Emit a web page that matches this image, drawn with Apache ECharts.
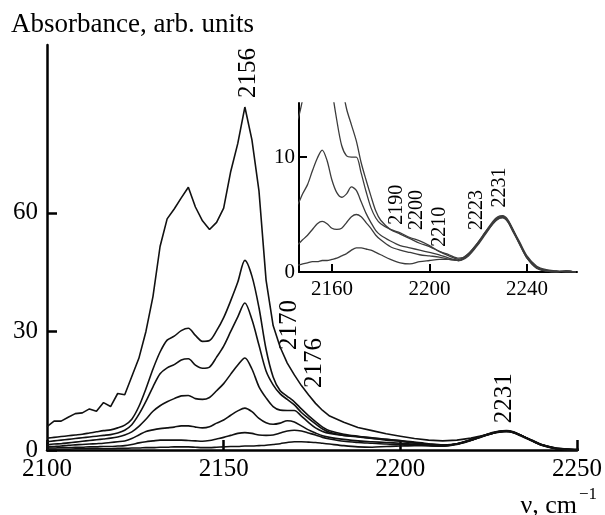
<!DOCTYPE html>
<html>
<head>
<meta charset="utf-8">
<script src="https://cdn.jsdelivr.net/npm/echarts@6/dist/echarts.min.js"></script>
<style>
  html, body { margin: 0; padding: 0; background: #fff; }
  #chart { width: 605px; height: 515px; }
</style>
</head>
<body>
<div id="chart"></div>
<script>
// wavenumber grid, cm-1
const wavenumbers = [
  2100, 2102, 2104, 2106, 2108, 2110, 2112, 2114, 2116, 2118,
  2120, 2122, 2124, 2126, 2128, 2130, 2132, 2134, 2136, 2138,
  2140, 2142, 2144, 2146, 2148, 2150, 2152, 2154, 2156, 2158,
  2160, 2162, 2164, 2166, 2168, 2170, 2172, 2174, 2176, 2178,
  2180, 2184, 2188, 2192, 2196, 2200, 2204, 2208, 2212,
  2216, 2220, 2223, 2226, 2228, 2230, 2232, 2234, 2237, 2240,
  2244, 2248, 2252, 2256, 2260
]

// absorbance spectra, top to bottom
const spectrum1 = [
  5.9, 7.3, 7.3, 8.3, 9.2, 9.4, 10.4, 9.8, 12.0, 11.0,
  14.3, 14.0, 18.6, 23.2, 30.0, 38.9, 51.5, 58.5, 61.0, 63.8,
  66.5, 61.5, 58.0, 55.8, 57.6, 61.2, 70.5, 77.6, 86.8, 78.5,
  65.5, 43.0, 31.5, 26.0, 22.0, 19.0, 16.3, 14.0, 11.8, 10.0,
  8.6, 7.0, 5.7, 4.9, 4.1, 3.5, 2.9, 2.5, 2.3,
  2.5, 3.0, 3.6, 4.2, 4.5, 4.7, 4.5, 3.8, 2.5, 1.3,
  0.5, 0.1, 0.0, 0.0, 0.0
]
const spectrum2 = [
  3.0, 3.2, 3.4, 3.6, 3.8, 4.0, 4.3, 4.6, 4.9, 5.1,
  5.6, 6.3, 7.8, 11.0, 15.5, 20.5, 24.8, 27.8, 28.8, 30.2,
  30.8, 29.0, 27.5, 27.7, 30.2, 33.5, 37.8, 42.5, 48.0, 44.0,
  36.0, 25.5, 18.5, 15.0, 13.6, 12.2, 10.4, 8.7, 7.2, 5.8,
  4.9, 4.0, 3.5, 3.1, 2.7, 2.4, 2.0, 1.6, 1.3,
  1.5, 2.5, 3.4, 4.2, 4.6, 4.8, 4.5, 3.8, 2.5, 1.3,
  0.4, 0.1, 0.1, 0.0, 0.0
]
const spectrum3 = [
  2.1, 2.3, 2.5, 2.7, 2.9, 3.1, 3.3, 3.5, 3.7, 3.9,
  4.3, 5.0, 6.4, 9.0, 12.3, 16.0, 19.3, 20.8, 21.6, 22.8,
  23.1, 21.5, 20.7, 21.0, 23.5, 26.3, 30.0, 33.7, 37.2, 33.0,
  26.5, 20.0, 16.5, 14.2, 12.8, 11.4, 9.5, 8.0, 6.6, 5.3,
  4.5, 3.7, 3.3, 2.9, 2.5, 2.2, 1.8, 1.5, 1.2,
  1.5, 2.5, 3.4, 4.3, 4.7, 4.85, 4.5, 3.8, 2.4, 1.2,
  0.4, 0.1, 0.0, 0.1, 0.0
]
const spectrum4 = [
  1.3, 1.5, 1.6, 1.8, 2.0, 2.2, 2.4, 2.6, 2.8, 3.0,
  3.3, 3.8, 4.6, 6.0, 7.8, 9.8, 11.2, 12.2, 13.0, 13.7,
  13.8, 13.0, 12.8, 13.3, 15.0, 16.8, 19.2, 21.5, 23.3, 20.5,
  16.0, 13.2, 11.0, 10.1, 10.0, 10.0, 8.6, 7.0, 5.6, 4.7,
  4.2, 3.7, 3.4, 3.0, 2.7, 2.3, 1.8, 1.4, 1.1,
  1.6, 2.6, 3.5, 4.3, 4.7, 4.8, 4.5, 3.7, 2.5, 1.3,
  0.4, 0.1, 0.1, 0.0, 0.0
]
const spectrum5 = [
  0.8, 0.9, 1.0, 1.2, 1.3, 1.4, 1.5, 1.6, 1.7, 1.9,
  2.1, 2.3, 2.9, 3.8, 4.7, 5.1, 5.4, 5.6, 5.8, 6.1,
  6.1, 5.8, 5.6, 5.9, 6.8, 7.6, 8.8, 9.9, 10.6, 9.7,
  8.0, 6.9, 6.5, 6.8, 7.4, 7.1, 6.1, 5.1, 4.3, 3.6,
  3.2, 2.7, 2.3, 2.1, 1.9, 1.7, 1.5, 1.2, 1.0,
  1.5, 2.5, 3.4, 4.2, 4.6, 4.75, 4.4, 3.6, 2.4, 1.2,
  0.3, 0.1, 0.0, 0.1, 0.0
]
const spectrum6 = [
  0.5, 0.5, 0.6, 0.6, 0.7, 0.7, 0.8, 0.8, 0.9, 0.9,
  1.0, 1.1, 1.4, 1.8, 2.1, 2.3, 2.5, 2.5, 2.5, 2.5,
  2.4, 2.3, 2.2, 2.4, 2.8, 3.2, 3.7, 4.2, 4.4, 4.2,
  3.8, 3.7, 3.8, 4.3, 4.8, 5.0, 4.8, 4.3, 3.8, 3.2,
  2.8, 2.2, 1.9, 1.7, 1.5, 1.4, 1.3, 1.1, 1.0,
  1.6, 2.6, 3.5, 4.4, 4.8, 4.9, 4.6, 3.8, 2.6, 1.4,
  0.5, 0.2, 0.1, 0.0, 0.0
]
const spectrum7 = [
  0.2, 0.2, 0.2, 0.2, 0.3, 0.3, 0.3, 0.3, 0.3, 0.3,
  0.4, 0.4, 0.5, 0.5, 0.6, 0.6, 0.7, 0.7, 0.8, 0.8,
  0.8, 0.7, 0.6, 0.6, 0.7, 0.8, 0.9, 0.9, 1.0, 1.0,
  1.1, 1.2, 1.4, 1.6, 1.9, 2.1, 2.1, 2.0, 1.9, 1.7,
  1.5, 1.1, 0.8, 0.7, 0.9, 1.0, 1.1, 1.1, 1.0,
  1.4, 2.4, 3.3, 4.2, 4.6, 4.7, 4.4, 3.7, 2.5, 1.3,
  0.4, 0.1, 0.0, 0.1, 0.0
]

const mainSpectra = [spectrum1, spectrum2, spectrum3, spectrum4, spectrum5, spectrum6, spectrum7]
// the inset only shows the lower five spectra
const insetSpectra = [spectrum3, spectrum4, spectrum5, spectrum6, spectrum7]

const mainYTicks = [0, 30, 60]
const mainXTicks = [2100, 2150, 2200, 2250]
const insetYTicks = [0, 10]
const insetXTicks = [2160, 2200, 2240]

// band labels: text, wavenumber, absorbance at the bottom of the text
const mainBandLabels = [
  ['2156', 2157.1, 89.1],
  ['2170', 2168.6, 25.3],
  ['2176', 2175.7, 15.7],
  ['2231', 2229.4, 6.8]
]
const insetBandLabels = [
  ['2190', 2186.7, 4.1],
  ['2200', 2194.9, 3.65],
  ['2210', 2204.3, 2.2],
  ['2223', 2219.5, 3.65],
  ['2231', 2229.0, 5.6]
]

const FONT = '"Liberation Serif", "DejaVu Serif", serif'

const chart = echarts.init(document.getElementById('chart'), null, { renderer: 'canvas' })

function toPairs(values) {
  return wavenumbers.map((w, i) => [w, values[i]])
}

function axisX(gridIndex, min, max, ticks, fontSize, lineWidth, tickLen) {
  return {
    type: 'value', gridIndex, min, max,
    axisLine: { onZero: false, lineStyle: { color: '#000', width: lineWidth } },
    axisTick: { inside: true, length: tickLen, customValues: ticks, lineStyle: { color: '#000', width: lineWidth } },
    axisLabel: { customValues: ticks, formatter: v => String(v), color: '#000', fontFamily: FONT, fontSize, margin: 7 },
    splitLine: { show: false }
  }
}

function axisY(gridIndex, min, max, ticks, fontSize, lineWidth, tickLen, margin) {
  return {
    type: 'value', gridIndex, min, max,
    axisLine: { show: true, onZero: false, lineStyle: { color: '#000', width: lineWidth } },
    axisTick: { show: true, inside: true, length: tickLen, customValues: ticks, lineStyle: { color: '#000', width: lineWidth } },
    axisLabel: { customValues: ticks, formatter: v => String(v), color: '#000', fontFamily: FONT, fontSize, margin },
    splitLine: { show: false }
  }
}

const series = []
mainSpectra.forEach((s, i) => {
  series.push({
    type: 'line', xAxisIndex: 0, yAxisIndex: 0,
    data: toPairs(s), showSymbol: false, smooth: i === 0 ? false : 0.3,
    lineStyle: { color: '#111', width: 1.6 }, clip: true, silent: true
  })
})
insetSpectra.forEach(s => {
  series.push({
    type: 'line', xAxisIndex: 1, yAxisIndex: 1,
    data: toPairs(s), showSymbol: false, smooth: 0.3,
    lineStyle: { color: '#3c3c3c', width: 1.3 }, clip: true, silent: true
  })
})

chart.setOption({
  animation: false,
  backgroundColor: '#fff',
  grid: [
    { left: 47, top: 45, width: 531, height: 405 },
    { left: 299, top: 103, width: 278, height: 169 }
  ],
  xAxis: [
    axisX(0, 2100, 2250, mainXTicks, 25, 2.5, 10),
    axisX(1, 2146.5, 2260.5, insetXTicks, 21, 2, 8)
  ],
  yAxis: [
    axisY(0, 0, 102.5, mainYTicks, 25, 2.5, 10, 9),
    axisY(1, 0, 14.7, insetYTicks, 21, 2, 8, 4)
  ],
  series
})

// text that is not part of the axes
const graphics = [
  {
    type: 'text', x: 11, y: 11,
    style: { text: 'Absorbance, arb. units', font: '27px ' + FONT, fill: '#000', align: 'left', verticalAlign: 'top' }
  },
  {
    type: 'text', x: 577, y: 519,
    style: { text: 'ν, cm', font: '26px ' + FONT, fill: '#000', align: 'right', verticalAlign: 'bottom' }
  },
  {
    type: 'text', x: 579, y: 486,
    style: { text: '−1', font: '17px ' + FONT, fill: '#000', align: 'left', verticalAlign: 'top' }
  }
]

function addBandLabels(list, gridIndex, fontSize) {
  list.forEach(([text, x, y]) => {
    const [px, py] = chart.convertToPixel({ gridIndex }, [x, y])
    graphics.push({
      type: 'text', x: px, y: py, rotation: Math.PI / 2,
      style: { text, font: fontSize + 'px ' + FONT, fill: '#000', align: 'left', verticalAlign: 'middle' }
    })
  })
}
addBandLabels(mainBandLabels, 0, 25)
addBandLabels(insetBandLabels, 1, 20)

chart.setOption({ graphic: graphics })
</script>
</body>
</html>
